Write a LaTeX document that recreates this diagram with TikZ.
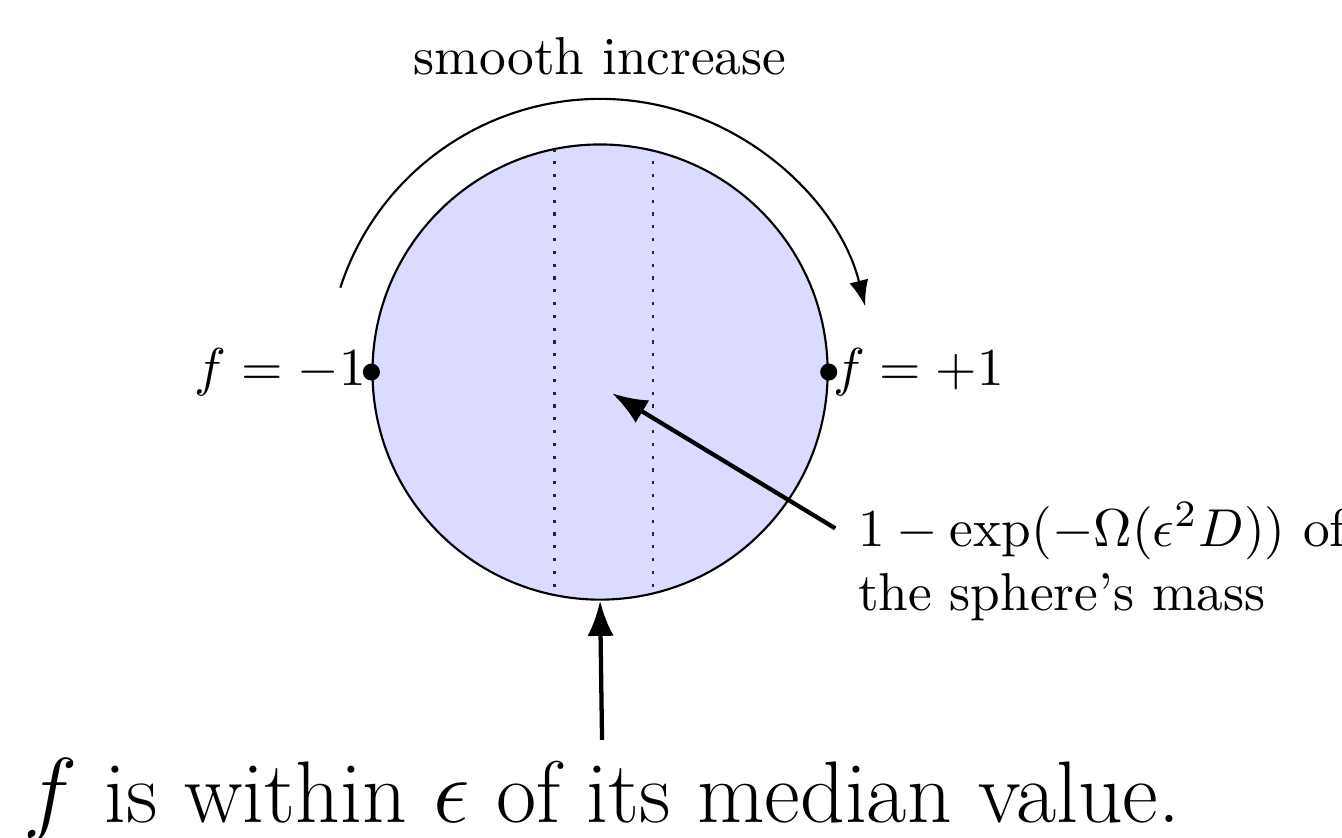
\documentclass[tikz,border=0pt]{standalone}
\usetikzlibrary{arrows.meta}
\begin{document}
\begin{tikzpicture}[
    sphere/.style={circle, draw, fill=blue!14, inner sep=0pt, minimum size=3cm},
    dot/.style={circle, fill, inner sep=0pt, minimum size=3.2pt},
    pointer/.style={-{Latex}, thick}
]
    \useasboundingbox (-3.955,-3.065) rectangle (4.89,2.452);

    % Sphere
    \node[sphere] (s) at (0,0) {};
    \begin{scope}
        \clip (0,0) circle (1.5);
        \draw[dash pattern=on 0.6pt off 1.8pt, black!85] (-0.3,-1.5) -- (-0.3,1.5);
        \draw[dash pattern=on 0.6pt off 1.8pt, black!85] (0.35,-1.5) -- (0.35,1.5);
    \end{scope}

    % Poles
    \node[dot, label={[inner sep=0pt, label distance=-1pt]left:$f=-1$}] (minus) at (s.west) {};
    \node[dot, label={[inner sep=0pt, label distance=-1.2pt]right:$f=+1$}] (plus) at (s.east) {};

    % Increase
    \draw[-{Latex}] (162:1.8) arc[start angle=162, end angle=14, radius=1.8];
    \node (smooth) at (0,2.08) {smooth increase};

    % Mass
    \node[anchor=north west, align=left] (mass) at (1.576,-0.738)
        {$1-\exp(-\Omega(\epsilon^2 D))$ of\\ the sphere's mass};
    \coordinate (tail) at (1.55,-1.03);
    \coordinate (tip) at (0.08,-0.14);
    \draw[pointer] (tail) -- (tip);

    % Median
    \node[anchor=base, font=\fontsize{16.4}{20}\selectfont] (median) at (0.013,-2.97)
        {$f$ is within $\epsilon$ of its median value.};
    \draw[pointer] (median.north) -- (s.south);
\end{tikzpicture}
\end{document}
